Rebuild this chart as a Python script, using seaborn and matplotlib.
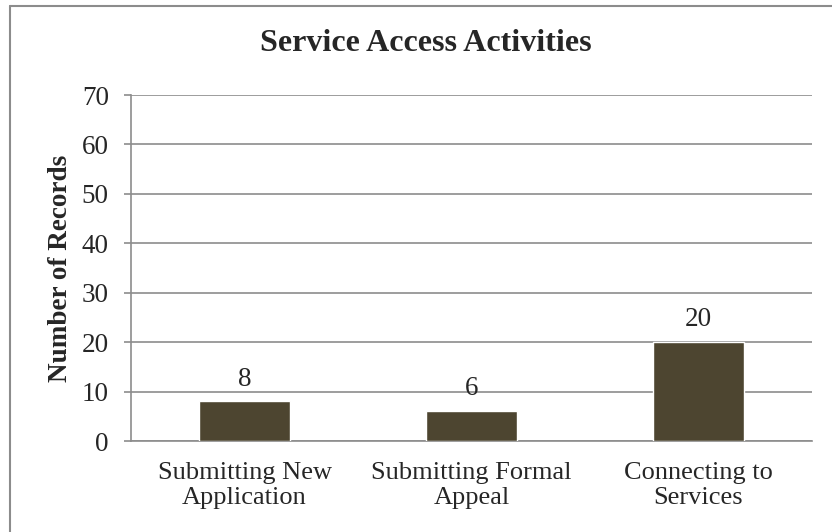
import matplotlib
matplotlib.use("Agg")
import matplotlib.pyplot as plt
from matplotlib.lines import Line2D
import seaborn as sns
import pandas as pd

categories = ["Submitting New\nApplication", "Submitting Formal\nAppeal", "Connecting to\nServices"]
records = [8, 6, 20]
y_ticks = [0, 10, 20, 30, 40, 50, 60, 70]

sns.set_theme(style="white")
plt.rcParams["font.family"] = ["Liberation Serif", "DejaVu Serif"]

df = pd.DataFrame({"activity": categories, "records": records})

fig = plt.figure(figsize=(8.32, 5.32), dpi=100)
ax = fig.add_axes([0.1575, 0.171, 0.8185, 0.6504])

sns.barplot(data=df, x="activity", y="records", color="#4d4530", width=0.4,
            saturation=1, ax=ax, zorder=3)

for i, v in enumerate(records):
    ax.text(i, v + 2.0, str(v), ha="center", va="bottom", fontsize=19.5, zorder=4)

ax.set_ylim(0, 70)
ax.set_yticks(y_ticks)
ax.set_yticklabels([str(t) for t in y_ticks], fontsize=19.5)
ax.tick_params(axis="x", labelsize=19, length=0, pad=15)
ax.tick_params(axis="y", length=5, width=1.2, color="#8c8c8c", direction="out", left=True, pad=11)
ax.yaxis.grid(True, color="#8c8c8c", linewidth=1.2, zorder=0)
ax.set_axisbelow(True)
for s in ["top", "right"]:
    ax.spines[s].set_visible(False)
ax.spines["left"].set_color("#8c8c8c")
ax.spines["left"].set_linewidth(1.2)
ax.spines["bottom"].set_color("#8c8c8c")
ax.spines["bottom"].set_linewidth(1.2)
ax.set_xlabel("")
ax.set_ylabel("Number of Records", fontsize=19.5, fontweight="bold", labelpad=6)

# title is centred on the whole chart area, not on the plot area
fig.text(426 / 832, 1 - 44 / 532, "Service Access Activities", ha="center", va="center",
         fontsize=23, fontweight="bold")

# chart frame: only top and left edges fall inside the image
fig.lines.append(Line2D([9.5 / 832, 1.0], [1 - 5.5 / 532, 1 - 5.5 / 532], transform=fig.transFigure,
                        color="#8c8c8c", linewidth=1.5))
fig.lines.append(Line2D([9.5 / 832, 9.5 / 832], [0.0, 1 - 5.5 / 532], transform=fig.transFigure,
                        color="#8c8c8c", linewidth=1.5))

fig.savefig("out.png", dpi=100)
